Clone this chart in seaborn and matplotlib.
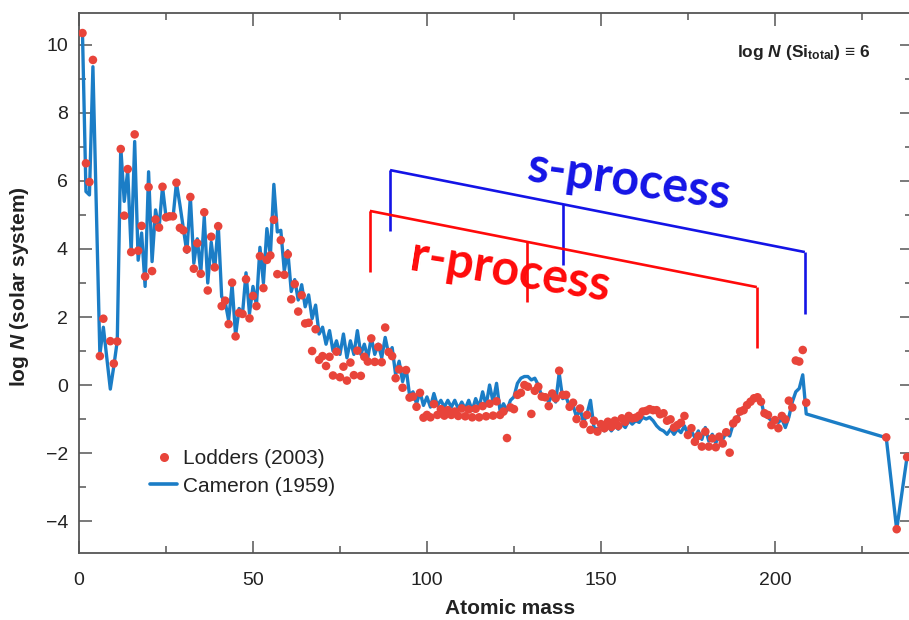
import matplotlib
matplotlib.use("Agg")
import matplotlib.pyplot as plt
import seaborn as sns
import pandas as pd
from matplotlib.lines import Line2D
from matplotlib.ticker import MultipleLocator

# ---------------- data ----------------
lodders_mass = [1, 2, 3, 4, 6, 7, 9, 10, 11, 12, 13, 14, 15, 16, 17, 18, 19, 20,
                21, 22, 23, 24, 25, 26, 27, 28, 29, 30, 31, 32, 33, 34, 35, 36, 37, 38,
                39, 40, 41, 42, 43, 44, 45, 46, 47, 48, 49, 50, 51, 52, 53, 54, 55, 56,
                57, 58, 59, 60, 61, 62, 63, 64, 65, 66, 67, 68, 69, 70, 71, 72, 73, 74,
                75, 76, 77, 78, 79, 80, 81, 82, 83, 84, 85, 86, 87, 88, 89, 90, 91, 92,
                93, 94, 95, 96, 97, 98, 99, 100, 101, 102, 103, 104, 105, 106, 107, 108,
                109, 110, 111, 112, 113, 114, 115, 116, 117, 118, 119, 120, 121, 122,
                123, 124, 125, 126, 127, 128, 129, 130, 131, 132, 133, 134, 135, 136,
                137, 138, 139, 140, 141, 142, 143, 144, 145, 146, 147, 148, 149, 150,
                151, 152, 153, 154, 155, 156, 157, 158, 159, 160, 161, 162, 163, 164,
                165, 166, 167, 168, 169, 170, 171, 172, 173, 174, 175, 176, 177, 178,
                179, 180, 181, 182, 183, 184, 185, 186, 187, 188, 189, 190, 191, 192,
                193, 194, 195, 196, 197, 198, 199, 200, 201, 202, 203, 204, 205, 206,
                207, 208, 209, 232, 235, 238]
lodders_logN = [10.35, 6.52, 5.97, 9.56, 0.85, 1.95, 1.29, 0.63, 1.28, 6.94, 4.98, 6.35,
                3.91, 7.37, 3.95, 4.68, 3.19, 5.82, 3.35, 4.87, 4.63, 5.83, 4.93, 4.96,
                4.96, 5.95, 4.62, 4.55, 3.99, 5.53, 3.42, 4.17, 3.27, 5.08, 2.78, 4.36,
                3.46, 4.67, 2.32, 2.48, 1.79, 3.01, 1.43, 2.12, 2.09, 3.11, 1.96, 2.62,
                2.32, 3.79, 2.85, 3.68, 3.81, 4.86, 3.26, 4.26, 3.24, 3.84, 2.52, 2.97,
                2.16, 2.64, 1.81, 1.83, 1.00, 1.64, 0.74, 0.85, 0.56, 0.83, 0.28, 0.98,
                0.23, 0.54, 0.13, 0.66, 0.29, 1.01, 0.27, 0.83, 0.69, 1.37, 0.68, 1.12,
                0.67, 1.69, 0.97, 0.85, 0.20, 0.46, -0.08, 0.44, -0.37, -0.34, -0.64,
                -0.23, -0.96, -0.88, -0.95, -0.56, -0.88, -0.71, -0.90, -0.74, -0.88,
                -0.78, -0.91, -0.69, -0.92, -0.72, -0.95, -0.70, -0.95, -0.62, -0.92,
                -0.55, -0.90, -0.48, -0.88, -0.78, -1.56, -0.66, -0.71, -0.29, -0.23,
                0.00, -0.05, -0.85, -0.17, -0.05, -0.34, -0.36, -0.62, -0.25, -0.39,
                0.42, -0.29, -0.29, -0.64, -0.52, -1.00, -0.69, -1.15, -0.88, -1.32,
                -1.05, -1.37, -1.15, -1.27, -1.08, -1.23, -1.05, -1.20, -0.98, -1.08,
                -0.91, -0.98, -0.96, -0.90, -0.78, -0.76, -0.71, -0.74, -0.74, -0.86,
                -0.83, -1.05, -1.01, -1.25, -1.18, -1.11, -0.91, -1.47, -1.27, -1.67,
                -1.50, -1.81, -1.37, -1.81, -1.57, -1.83, -1.52, -1.72, -1.39, -1.99,
                -1.13, -1.01, -0.78, -0.74, -0.59, -0.49, -0.39, -0.36, -0.49, -0.83,
                -0.88, -1.18, -1.03, -1.27, -0.91, -1.01, -0.46, -0.66, 0.72, 0.69,
                1.03, -0.52, -1.54, -4.24, -2.12]

cameron_mass = [1, 2, 3, 4, 6, 7, 9, 10, 11, 12, 13, 14, 15, 16, 17, 18, 19, 20,
                21, 22, 23, 24, 25, 26, 27, 28, 29, 30, 31, 32, 33, 34, 35, 36, 37, 38,
                39, 40, 41, 42, 43, 44, 45, 46, 47, 48, 49, 50, 51, 52, 53, 54, 55, 56,
                57, 58, 59, 60, 61, 62, 63, 64, 65, 66, 67, 68, 69, 70, 71, 72, 73, 74,
                75, 76, 77, 78, 79, 80, 81, 82, 83, 84, 85, 86, 87, 88, 89, 90, 91, 92,
                93, 94, 95, 96, 97, 98, 99, 100, 101, 102, 103, 104, 105, 106, 107, 108,
                109, 110, 111, 112, 113, 114, 115, 116, 117, 118, 119, 120, 121, 122,
                123, 124, 125, 126, 127, 128, 129, 130, 131, 132, 133, 134, 135, 136,
                137, 138, 139, 140, 141, 142, 143, 144, 145, 146, 147, 148, 149, 150,
                151, 152, 153, 154, 155, 156, 157, 158, 159, 160, 161, 162, 163, 164,
                165, 166, 167, 168, 169, 170, 171, 172, 173, 174, 175, 176, 177, 178,
                179, 180, 181, 182, 183, 184, 185, 186, 187, 188, 189, 190, 191, 192,
                193, 194, 195, 196, 197, 198, 199, 200, 201, 202, 203, 204, 205, 206,
                207, 208, 209, 232, 235, 238]
cameron_logN = [10.35, 5.69, 5.59, 9.36, 0.90, 1.70, -0.12, 0.55, 1.30, 7.00, 5.40, 6.30,
                3.90, 7.16, 3.67, 4.47, 2.90, 6.27, 3.63, 5.15, 4.60, 5.83, 4.95, 5.00,
                4.90, 5.95, 5.30, 4.60, 3.90, 5.54, 3.58, 4.30, 3.30, 4.95, 3.00, 4.20,
                3.40, 4.75, 2.60, 2.45, 1.90, 2.95, 1.45, 2.25, 2.10, 3.30, 2.10, 2.90,
                2.35, 4.05, 3.00, 4.60, 3.80, 5.90, 4.50, 4.55, 3.35, 3.95, 2.75, 3.10,
                2.50, 2.95, 2.30, 2.65, 1.95, 2.35, 1.50, 1.70, 1.20, 1.60, 1.00, 1.30,
                0.90, 1.50, 0.80, 1.30, 0.90, 1.60, 0.90, 1.20, 0.80, 1.40, 0.90, 1.20,
                0.80, 1.40, 0.90, 1.10, 0.30, 0.70, 0.10, 0.50, -0.30, -0.20, -0.55,
                -0.20, -0.60, -0.35, -0.65, -0.25, -0.60, -0.45, -0.65, -0.45, -0.65,
                -0.45, -0.70, -0.50, -0.70, -0.45, -0.75, -0.40, -0.65, -0.20, -0.60,
                0.00, -0.50, 0.05, -0.75, -0.55, -0.75, -0.45, -0.35, 0.05, 0.20,
                0.25, 0.25, 0.15, 0.20, 0.00, -0.35, -0.30, -0.50, -0.30, -0.50,
                0.35, -0.40, -0.35, -0.65, -0.60, -0.95, -0.70, -1.10, -0.85, -0.45,
                -1.25, -1.30, -1.20, -1.35, -1.20, -1.35, -1.20, -1.30, -1.15, -1.25,
                -1.05, -1.15, -1.05, -1.10, -0.95, -1.00, -0.95, -1.05, -1.20, -1.30,
                -1.35, -1.45, -1.30, -1.45, -1.30, -1.40, -1.20, -1.45, -1.35, -1.55,
                -1.35, -1.60, -1.25, -1.65, -1.45, -1.70, -1.50, -1.60, -1.40, -1.50,
                -1.15, -1.00, -0.80, -0.70, -0.60, -0.50, -0.42, -0.33, -0.45, -0.90,
                -0.95, -1.05, -1.00, -1.10, -1.00, -1.25, -0.95, -0.50, -0.20, -0.10,
                0.30, -0.85, -1.55, -4.25, -2.10]

x_ticks = [0, 50, 100, 150, 200]
y_ticks = [-4, -2, 0, 2, 4, 6, 8, 10]
y_tick_labels = ["\u22124", "\u22122", "0", "2", "4", "6", "8", "10"]

# bracket endpoints (atomic mass, log N)
s_bracket_mass = [89.4, 139.1, 208.6]
s_bracket_top = [6.32, 5.32, 3.91]
s_bracket_bottom = [4.53, 3.53, 2.09]
r_bracket_mass = [83.6, 128.7, 194.8]
r_bracket_top = [5.12, 4.21, 2.88]
r_bracket_bottom = [3.32, 2.44, 1.09]

RED = "#e8443a"
BLUE = "#1b7dc6"
SBLUE = "#1414e6"
RRED = "#ff0a0a"

# ---------------- style ----------------
sns.set_theme(style="ticks")
plt.rcParams["font.family"] = ["Liberation Sans", "DejaVu Sans"]
plt.rcParams["mathtext.fontset"] = "custom"
plt.rcParams["mathtext.it"] = "Liberation Sans:italic:bold"
plt.rcParams["mathtext.rm"] = "Liberation Sans:bold"
plt.rcParams["mathtext.bf"] = "Liberation Sans:bold"

fig = plt.figure(figsize=(9.09, 6.2), dpi=100)
ax = fig.add_axes([79 / 909, 67 / 620, 833 / 909, 540 / 620])

df_c = pd.DataFrame({"A": cameron_mass, "logN": cameron_logN})
df_l = pd.DataFrame({"A": lodders_mass, "logN": lodders_logN})

sns.lineplot(data=df_c, x="A", y="logN", ax=ax, color=BLUE, linewidth=2.4,
             sort=False, errorbar=None, zorder=2)
sns.scatterplot(data=df_l, x="A", y="logN", ax=ax, color=RED, s=38,
                edgecolor="none", linewidth=0, zorder=3)

ax.set_xlim(0, 239.4)
ax.set_ylim(-4.94, 10.94)

ax.set_xticks(x_ticks)
ax.set_yticks(y_ticks)
ax.set_yticklabels(y_tick_labels)
ax.xaxis.set_minor_locator(MultipleLocator(25))
ax.yaxis.set_minor_locator(MultipleLocator(1))
ax.tick_params(which="both", direction="in", top=True, right=True,
               color="#555555", width=1.1, labelsize=14, labelcolor="#222222")
ax.tick_params(which="major", length=9, pad=8)
ax.tick_params(which="minor", length=5)
ax.tick_params(axis="x", which="major", pad=14)
for lbl in ax.get_xticklabels() + ax.get_yticklabels():
    lbl.set_fontfamily(["Liberation Sans Narrow", "Liberation Sans", "DejaVu Sans"])

for sp in ax.spines.values():
    sp.set_color("#555555")
    sp.set_linewidth(1.3)

ax.set_xlabel("Atomic mass", fontsize=15, fontweight="bold", color="#222222")
ax.set_ylabel("log $N$ (solar system)", fontsize=15, fontweight="bold", color="#222222")
ax.xaxis.set_label_coords((510 - 79) / 833, (553 - 599) / 540)
ax.yaxis.set_label_coords((31 - 79) / 833, (553 - 287) / 540)

# normalisation note
ax.text((870 - 79) / 833, (553 - 52) / 540,
        "log $N$ (Si$_{\\mathregular{total}}$) \u2261 6", transform=ax.transAxes,
        ha="right", va="center", fontsize=12.5, fontweight="bold", color="#222222")

# brackets
def bracket(mass, top, bottom, color):
    ax.plot(mass[::2], top[::2], color=color, linewidth=1.9, zorder=4,
            solid_capstyle="butt")
    for m, t, b in zip(mass, top, bottom):
        ax.plot([m, m], [t, b], color=color, linewidth=1.9, zorder=4,
                solid_capstyle="butt")

bracket(s_bracket_mass, s_bracket_top, s_bracket_bottom, SBLUE)
bracket(r_bracket_mass, r_bracket_top, r_bracket_bottom, RRED)

ax.text((630 - 79) / 3.48, (385 - 181) / 34, "s-process", color=SBLUE,
        fontsize=35, fontweight="bold", family=["Lato", "DejaVu Sans"],
        rotation=-8, ha="center", va="center", rotation_mode="anchor", zorder=5)
ax.text((510 - 79) / 3.48, (385 - 272) / 34, "r-process", color=RRED,
        fontsize=35, fontweight="bold", family=["Lato", "DejaVu Sans"],
        rotation=-9, ha="center", va="center", rotation_mode="anchor", zorder=5)

# legend
handles = [Line2D([], [], marker="o", linestyle="none", color=RED,
                  markersize=6.5, markeredgewidth=0),
           Line2D([], [], color=BLUE, linewidth=2.6)]
leg = ax.legend(handles, ["Lodders (2003)", "Cameron (1959)"],
                loc="upper left", bbox_to_anchor=((150 - 79) / 833, (553 - 449) / 540),
                frameon=False, fontsize=15, handlelength=1.3, handletextpad=0.3,
                labelspacing=0.42, borderpad=0, borderaxespad=0)
for t in leg.get_texts():
    t.set_color("#222222")

fig.savefig("out.png", dpi=100)
